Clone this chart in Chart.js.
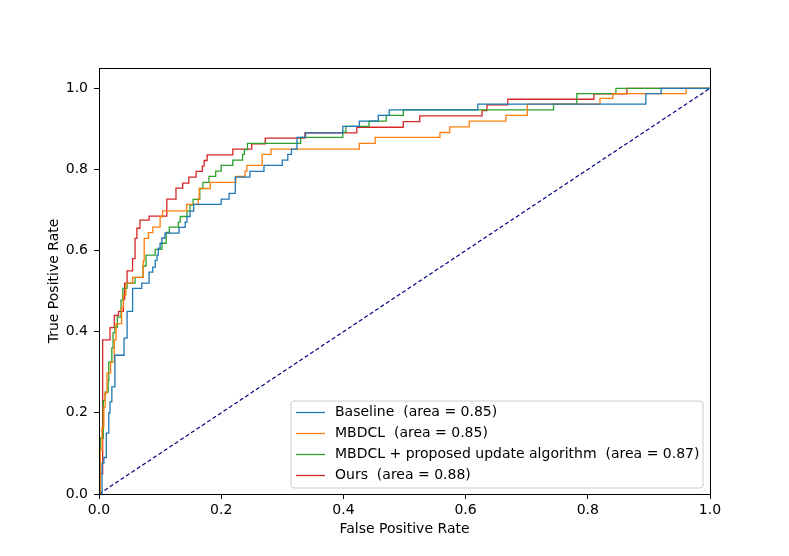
<!DOCTYPE html>
<html lang="en">
<head>
<meta charset="UTF-8">
<title>ROC curves</title>
<script src="https://cdn.jsdelivr.net/npm/chart.js"></script>
<style>
    body {
        margin: 0;
        padding: 0;
        background: #ffffff;
    }
    canvas {
        display: block;
    }
</style>
</head>
<body>
<canvas id="rocChart" width="789" height="556"></canvas>
<script>
    // ROC corner points (false positive rate, true positive rate)
    const seriesLabels = [
        'Baseline  (area = 0.85)',
        'MBDCL  (area = 0.85)',
        'MBDCL + proposed update algorithm  (area = 0.87)',
        'Ours  (area = 0.88)'
    ];
    const seriesColors = ['#1f77b4', '#ff7f0e', '#2ca02c', '#d62728'];

    const baselineFpr = [0, 0.005, 0.008, 0.012, 0.016, 0.018, 0.021, 0.026, 0.041, 0.046, 0.055, 0.07, 0.082, 0.088, 0.092, 0.095, 0.097, 0.1, 0.103, 0.108, 0.131, 0.141, 0.144, 0.149, 0.155, 0.2, 0.213, 0.223, 0.247, 0.27, 0.3, 0.309, 0.315, 0.324, 0.338, 0.399, 0.426, 0.457, 0.475, 0.62, 0.895, 0.92, 1];
    const baselineTpr = [0, 0.076, 0.09, 0.15, 0.2, 0.227, 0.264, 0.342, 0.384, 0.45, 0.507, 0.52, 0.547, 0.559, 0.576, 0.589, 0.606, 0.618, 0.631, 0.643, 0.657, 0.67, 0.684, 0.697, 0.714, 0.727, 0.741, 0.781, 0.795, 0.81, 0.823, 0.837, 0.85, 0.879, 0.89, 0.906, 0.919, 0.933, 0.947, 0.961, 0.987, 1, 1];

    const mbdclFpr = [0, 0.002, 0.005, 0.008, 0.01, 0.013, 0.019, 0.025, 0.028, 0.037, 0.04, 0.044, 0.055, 0.0725, 0.074, 0.081, 0.088, 0.1, 0.104, 0.1435, 0.1625, 0.164, 0.182, 0.224, 0.239, 0.242, 0.267, 0.2815, 0.426, 0.452, 0.558, 0.574, 0.606, 0.666, 0.701, 0.82, 0.841, 0.961, 1];
    const mbdclTpr = [0, 0.108, 0.165, 0.214, 0.249, 0.298, 0.325, 0.38, 0.42, 0.46, 0.49, 0.52, 0.534, 0.575, 0.63, 0.644, 0.658, 0.683, 0.698, 0.714, 0.728, 0.753, 0.768, 0.783, 0.796, 0.81, 0.837, 0.85, 0.864, 0.879, 0.891, 0.905, 0.919, 0.933, 0.961, 0.975, 0.987, 1, 1];

    const updateFpr = [0, 0.002, 0.007, 0.01, 0.015, 0.016, 0.021, 0.023, 0.026, 0.03, 0.036, 0.039, 0.046, 0.059, 0.072, 0.077, 0.092, 0.103, 0.11, 0.115, 0.13, 0.133, 0.144, 0.149, 0.154, 0.165, 0.17, 0.18, 0.191, 0.2, 0.219, 0.235, 0.238, 0.243, 0.33, 0.399, 0.404, 0.442, 0.47, 0.498, 0.744, 0.782, 0.846, 1];
    const updateTpr = [0, 0.138, 0.231, 0.251, 0.28, 0.325, 0.36, 0.397, 0.411, 0.436, 0.478, 0.507, 0.52, 0.534, 0.562, 0.589, 0.603, 0.618, 0.645, 0.658, 0.67, 0.684, 0.697, 0.712, 0.726, 0.753, 0.768, 0.783, 0.796, 0.81, 0.823, 0.837, 0.849, 0.864, 0.879, 0.892, 0.906, 0.919, 0.933, 0.947, 0.961, 0.987, 1, 1];

    const oursFpr = [0, 0, 0.006, 0.018, 0.025, 0.032, 0.04, 0.042, 0.046, 0.055, 0.059, 0.062, 0.067, 0.082, 0.111, 0.126, 0.137, 0.147, 0.159, 0.169, 0.172, 0.177, 0.219, 0.25, 0.272, 0.337, 0.422, 0.498, 0.525, 0.627, 0.635, 0.669, 0.81, 0.864, 1];
    const oursTpr = [0, 0.05, 0.38, 0.41, 0.44, 0.45, 0.48, 0.52, 0.55, 0.58, 0.63, 0.655, 0.675, 0.685, 0.727, 0.754, 0.766, 0.781, 0.795, 0.808, 0.822, 0.836, 0.85, 0.863, 0.877, 0.89, 0.904, 0.918, 0.932, 0.945, 0.959, 0.973, 0.986, 1, 1];

    const chanceFpr = [0, 1];
    const chanceTpr = [0, 1];

    const xTitle = 'False Positive Rate';
    const yTitle = 'True Positive Rate';

    function toPoints(xs, ys) {
        return xs.map((x, i) => ({ x: x, y: ys[i] }));
    }

    const curveData = [
        toPoints(baselineFpr, baselineTpr),
        toPoints(mbdclFpr, mbdclTpr),
        toPoints(updateFpr, updateTpr),
        toPoints(oursFpr, oursTpr)
    ];

    const datasets = curveData.map((pts, i) => ({
        label: seriesLabels[i],
        data: pts,
        borderColor: seriesColors[i],
        borderWidth: 1.3,
        pointRadius: 0,
        stepped: 'before',
        fill: false
    }));
    datasets.push({
        label: 'chance',
        data: toPoints(chanceFpr, chanceTpr),
        borderColor: '#000080',
        borderWidth: 1.2,
        borderDash: [4, 2.5],
        pointRadius: 0,
        fill: false
    });

    const FONT = 'DejaVu Sans';
    const FSIZE = 14;

    // frame, axis titles and the legend box in the lower right
    const decorations = {
        id: 'decorations',
        afterDatasetsDraw(chart) {
            const c = chart.ctx;
            const a = chart.chartArea;
            c.save();
            c.strokeStyle = '#000';
            c.lineWidth = 1;
            c.strokeRect(Math.round(a.left) + 0.5, Math.round(a.top) + 0.5,
                Math.round(a.right - a.left), Math.round(a.bottom - a.top));

            c.fillStyle = '#000';
            c.font = FSIZE + 'px "' + FONT + '"';
            c.textAlign = 'center';
            c.textBaseline = 'middle';
            c.fillText(xTitle, (a.left + a.right) / 2, 529);
            c.translate(54, (a.top + a.bottom) / 2);
            c.rotate(-Math.PI / 2);
            c.fillText(yTitle, 0, 0);
            c.restore();

            // legend
            c.save();
            const bx = 291, by = 401, bw = 412, bh = 87, r = 3;
            c.beginPath();
            c.moveTo(bx + r, by);
            c.arcTo(bx + bw, by, bx + bw, by + bh, r);
            c.arcTo(bx + bw, by + bh, bx, by + bh, r);
            c.arcTo(bx, by + bh, bx, by, r);
            c.arcTo(bx, by, bx + bw, by, r);
            c.closePath();
            c.fillStyle = 'rgba(255,255,255,0.8)';
            c.fill();
            c.strokeStyle = '#cccccc';
            c.lineWidth = 1;
            c.stroke();

            c.font = FSIZE + 'px "' + FONT + '"';
            c.textAlign = 'left';
            c.textBaseline = 'middle';
            seriesLabels.forEach((lab, i) => {
                const y = 412 + i * 21;
                c.strokeStyle = seriesColors[i];
                c.lineWidth = 1.3;
                c.beginPath();
                c.moveTo(296, y + 0.5);
                c.lineTo(325, y + 0.5);
                c.stroke();
                c.fillStyle = '#000';
                c.fillText(lab, 335, y);
            });
            c.restore();
        }
    };

    const whiteBg = {
        id: 'whiteBg',
        beforeDraw(chart) {
            const c = chart.ctx;
            c.save();
            c.fillStyle = '#fff';
            c.fillRect(0, 0, chart.width, chart.height);
            c.restore();
        }
    };

    const ctx = document.getElementById('rocChart').getContext('2d');
    new Chart(ctx, {
        type: 'line',
        data: { datasets: datasets },
        plugins: [whiteBg, decorations],
        options: {
            responsive: false,
            animation: false,
            layout: {
                padding: { left: 0, right: 79, top: 68, bottom: 0 }
            },
            plugins: {
                legend: { display: false },
                tooltip: { enabled: false }
            },
            scales: {
                x: {
                    type: 'linear',
                    min: 0,
                    max: 1,
                    afterFit: (s) => { s.height = 62; },
                    ticks: {
                        stepSize: 0.2,
                        color: '#000',
                        font: { family: FONT, size: FSIZE },
                        padding: 3,
                        maxRotation: 0,
                        callback: (v) => v.toFixed(1)
                    },
                    grid: {
                        drawOnChartArea: false,
                        drawTicks: true,
                        tickLength: 5,
                        color: '#000'
                    },
                    border: { display: true, color: '#000' }
                },
                y: {
                    type: 'linear',
                    min: 0,
                    max: 1.05,
                    afterFit: (s) => { s.width = 99; },
                    ticks: {
                        stepSize: 0.2,
                        includeBounds: false,
                        color: '#000',
                        font: { family: FONT, size: FSIZE },
                        padding: 6,
                        callback: (v) => v.toFixed(1)
                    },
                    grid: {
                        drawOnChartArea: false,
                        drawTicks: true,
                        tickLength: 5,
                        color: '#000'
                    },
                    border: { display: true, color: '#000' }
                }
            }
        }
    });
</script>
</body>
</html>
